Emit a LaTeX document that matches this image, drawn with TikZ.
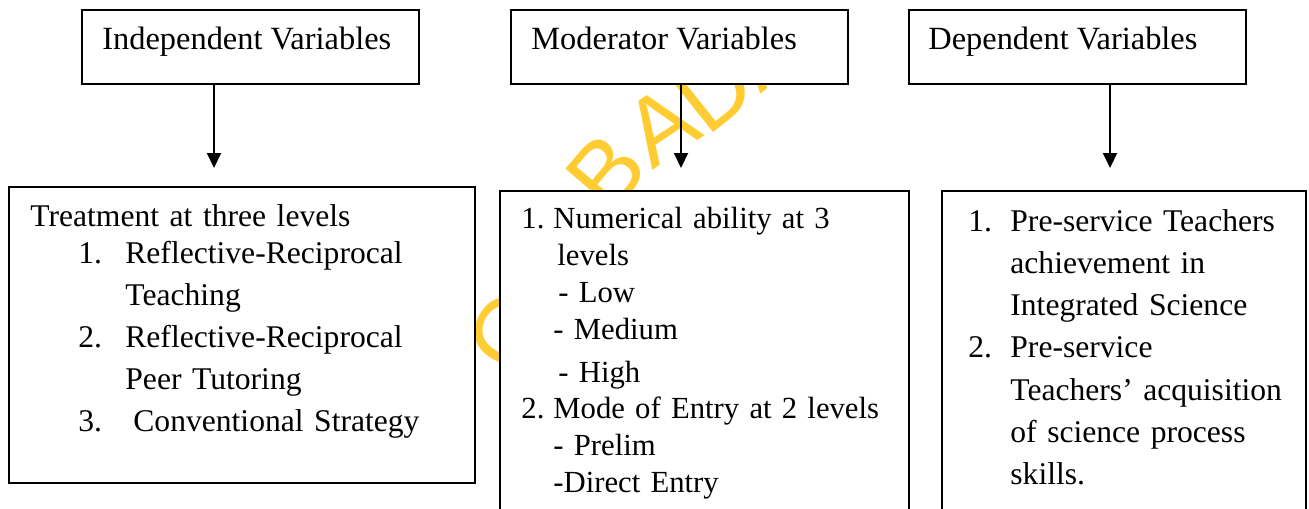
\documentclass[tikz,border=0pt]{standalone}
\usepackage{fontspec}
\setmainfont{Liberation Serif}
\newfontfamily\wmfont{Liberation Sans}
\usetikzlibrary{arrows.meta,decorations.text}
\definecolor{wmyellow}{RGB}{255,204,51}
\tikzset{
  hdrbox/.style={draw, line width=1pt, fill=white, minimum width=168.5pt,
    minimum height=37pt, anchor=north west, inner sep=0pt},
  lvlbox/.style={draw, line width=1pt, fill=white, anchor=north west, inner sep=0pt},
  hdrtext/.style={anchor=base west, inner sep=0pt, font=\fontsize{16.2}{18.5}\selectfont},
  listtext/.style={anchor=base west, inner sep=0pt, align=left, text width=#1},
  flow/.style={line width=1pt, -{Triangle[length=7.5pt,width=7pt]}},
}
\begin{document}
\begin{tikzpicture}[x=0.5pt,y=-0.5pt]
\useasboundingbox (0,0) rectangle (1309,508);
\clip (0,0) rectangle (1309,508);

% library watermark behind the boxes
\path[decorate, decoration={text along path, text color=wmyellow,
  text={|\wmfont\fontsize{47.5}{47.5}\selectfont|OF IBADA}}]
  plot[smooth] coordinates {(521,380) (628,197) (728,121) (800,62) (880,0) (960,-60)};

% header boxes
\node[hdrbox] (ind) at (81,9) {};
\node[hdrbox] (mod) at (510,9) {};
\node[hdrbox] (dep) at (908,9) {};
\node[hdrtext] (indt) at (102,50) {Independent Variables};
\node[hdrtext] (modt) at (531,50) {Moderator Variables};
\node[hdrtext] (dept) at (928,50) {Dependent Variables};

% level boxes
\node[lvlbox, minimum width=233pt, minimum height=148pt] (trt) at (8,186) {};
\node[lvlbox, minimum width=204.5pt, minimum height=170pt] (nab) at (499,190) {};
\node[lvlbox, minimum width=182pt, minimum height=170pt] (out) at (941,190) {};

\node[listtext=215pt, font=\fontsize{15.8}{21}\selectfont] (trtt) at (30,226) {%
Treatment at three levels\\[-2.5pt]
\hspace*{24pt}\makebox[23.5pt][l]{1.}Reflective-Reciprocal\\
\hspace*{47.5pt}Teaching\\
\hspace*{24pt}\makebox[23.5pt][l]{2.}Reflective-Reciprocal\\
\hspace*{47.5pt}Peer Tutoring\\
\hspace*{24pt}\makebox[27.5pt][l]{3.}Conventional Strategy};

\node[listtext=195pt, font=\fontsize{15.35}{18.5}\selectfont] (nabt) at (521,228) {%
\makebox[16pt][l]{1.}Numerical ability at 3\\
\hspace*{18pt}levels\\
\hspace*{18.5pt}- Low\\
\hspace*{16pt}- Medium\\[3pt]
\hspace*{18.5pt}- High\\[-0.5pt]
\makebox[16pt][l]{2.}Mode of Entry at 2 levels\\
\hspace*{16pt}- Prelim\\
\hspace*{16pt}-Direct Entry};

\node[listtext=175pt, font=\fontsize{15.8}{21.15}\selectfont] (outt) at (968,231) {%
\makebox[21pt][l]{1.}Pre-service Teachers\\
\hspace*{21pt}achievement in\\
\hspace*{21pt}Integrated Science\\
\makebox[21pt][l]{2.}Pre-service\\
\hspace*{21pt}Teachers’ acquisition\\
\hspace*{21pt}of science process\\
\hspace*{21pt}skills.};

% arrows from each header down to its level box
\coordinate (ta) at (214,168);
\coordinate (tb) at (681,168);
\coordinate (tc) at (1110,168);
\draw[flow] (ind.south -| ta) -- (ta);
\draw[flow] (mod.south -| tb) -- (tb);
\draw[flow] (dep.south -| tc) -- (tc);
\end{tikzpicture}
\end{document}
